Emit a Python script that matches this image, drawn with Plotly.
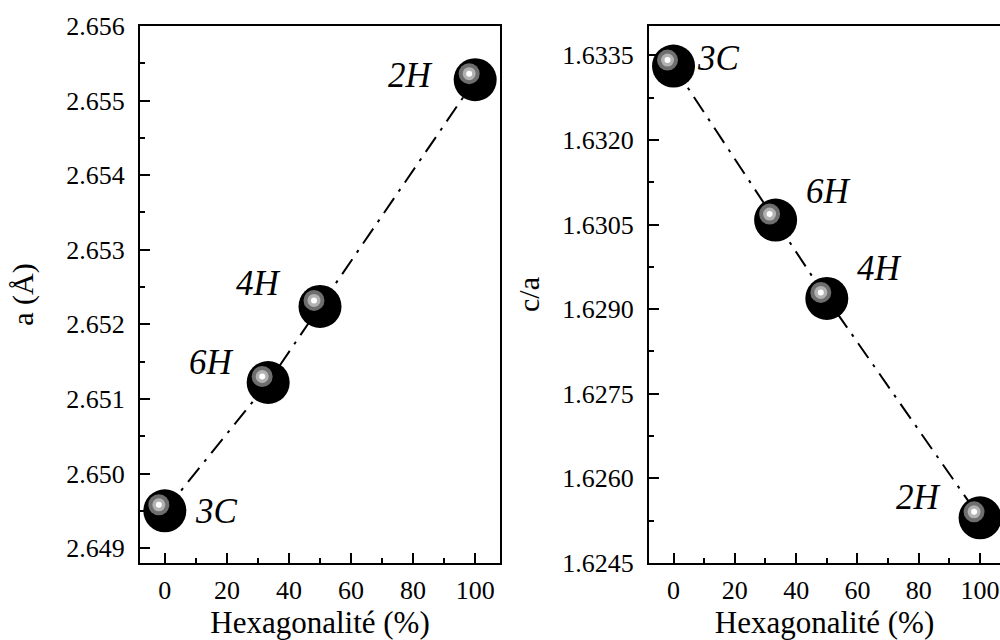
import plotly.graph_objects as go

# Hexagonality of each SiC-type polytype (%) and measured lattice parameters
hexagonality = [0, 33.3, 50, 100]
polytypes = ["3C", "6H", "4H", "2H"]
lattice_a = [2.6495, 2.65122, 2.65224, 2.65528]
c_over_a = [1.63331, 1.63058, 1.62919, 1.6253]

# label offsets (pixels) of the polytype names around each sphere
label_shift_a = [(52, -1), (-57, 20), (-62, 23), (-65, 4)]
label_shift_ca = [(45, 8), (53, 29), (53, 30), (-62, 20)]

FONT = "Liberation Serif"
BLACK = "black"

fig = go.Figure()

panels = [
    (lattice_a, "x", "y", label_shift_a),
    (c_over_a, "x2", "y2", label_shift_ca),
]

shapes = []
annotations = []
for yvals, xa, ya, shifts in panels:
    fig.add_trace(go.Scatter(
        x=hexagonality, y=yvals, xaxis=xa, yaxis=ya,
        mode="lines+markers",
        line=dict(color=BLACK, width=2, dash="18px,8px,3px,8px"),
        marker=dict(size=43, color=BLACK, line=dict(width=0)),
        showlegend=False, hoverinfo="skip",
    ))
    # glossy highlight on each sphere
    for xv, yv in zip(hexagonality, yvals):
        for r, col in [(10.5, "#6e6e6e"), (6.5, "#b2b2b2"), (3, "white")]:
            shapes.append(dict(
                type="circle", xref=xa, yref=ya,
                xsizemode="pixel", ysizemode="pixel",
                xanchor=xv, yanchor=yv,
                x0=-6 - r, x1=-6 + r, y0=6 - r, y1=6 + r,
                fillcolor=col, line=dict(width=0), layer="above",
            ))
    for name, xv, yv, (dx, dy) in zip(polytypes, hexagonality, yvals, shifts):
        annotations.append(dict(
            x=xv, y=yv, xref=xa, yref=ya, text=f"<i>{name}</i>",
            showarrow=False, xshift=dx, yshift=dy,
            font=dict(family=FONT, size=35, color=BLACK),
        ))

axis_common = dict(
    showline=True, linewidth=2, linecolor=BLACK,
    ticks="inside", ticklen=10, tickwidth=2, tickcolor=BLACK,
    showgrid=False, zeroline=False,
    tickfont=dict(family=FONT, size=26, color=BLACK),
)

x_title = dict(text="Hexagonalité (%)", font=dict(family=FONT, size=31, color=BLACK), standoff=13)
x_minor = dict(ticks="inside", ticklen=5, tickwidth=2, tickcolor=BLACK, dtick=10)

fig.update_layout(
    width=1000, height=640,
    margin=dict(l=0, r=0, t=26, b=77),
    paper_bgcolor="white", plot_bgcolor="white",
    shapes=shapes, annotations=annotations,
    xaxis=dict(
        domain=[0.14, 0.5], range=[-8, 108], tick0=0, dtick=20,
        mirror=True, anchor="y", minor=x_minor, title=x_title,
        ticklabelstandoff=3, **axis_common,
    ),
    yaxis=dict(
        domain=[0, 1], range=[2.6488, 2.656], tick0=2.649, dtick=0.001,
        tickformat=".3f", mirror=True, anchor="x",
        minor=dict(ticks="inside", ticklen=5, tickwidth=2, tickcolor=BLACK, dtick=0.0005),
        title=dict(text="a (Å)", font=dict(family=FONT, size=30, color=BLACK), standoff=24),
        ticklabelstandoff=8, **axis_common,
    ),
    xaxis2=dict(
        domain=[0.649, 1.0], range=[-8, 106.5], tick0=0, dtick=20,
        mirror=True, anchor="y2", minor=x_minor, title=x_title,
        ticklabelstandoff=3, **axis_common,
    ),
    yaxis2=dict(
        domain=[0, 1], range=[1.6245, 1.63402], tick0=1.6245, dtick=0.0015,
        tickformat=".4f", mirror=False, anchor="x2",
        minor=dict(ticks="inside", ticklen=5, tickwidth=2, tickcolor=BLACK, dtick=0.00075),
        title=dict(text="c/a", font=dict(family=FONT, size=30, color=BLACK), standoff=14),
        ticklabelstandoff=8, **axis_common,
    ),
)

fig.write_html("out.html")
